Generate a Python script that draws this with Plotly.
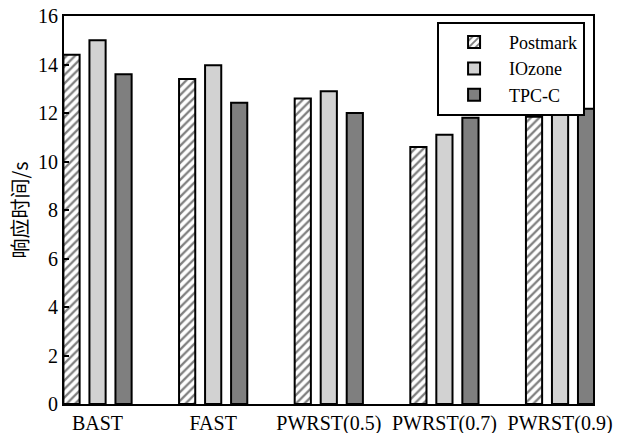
import plotly.graph_objects as go

categories = ["BAST", "FAST", "PWRST(0.5)", "PWRST(0.7)", "PWRST(0.9)"]
postmark = [14.4, 13.4, 12.6, 10.6, 11.85]
iozone = [15.0, 13.97, 12.9, 11.1, 12.48]
tpcc = [13.6, 12.42, 12.0, 11.8, 12.18]
y_ticks = [0, 2, 4, 6, 8, 10, 12, 14, 16]

FONT = "Liberation Serif, Times New Roman, serif"
W = 0.14
STEP = 0.225

fig = go.Figure()
fig.add_trace(go.Bar(
    x=categories, y=postmark, name="Postmark",
    width=W, offset=-STEP - W / 2,
    marker=dict(color="white", line=dict(color="black", width=2),
                pattern=dict(shape="/", fgcolor="black", bgcolor="white",
                             size=6, solidity=0.38)),
))
fig.add_trace(go.Bar(
    x=categories, y=iozone, name="IOzone",
    width=W, offset=-W / 2,
    marker=dict(color="#d2d2d2", line=dict(color="black", width=2)),
))
fig.add_trace(go.Bar(
    x=categories, y=tpcc, name="TPC-C",
    width=W, offset=STEP - W / 2,
    marker=dict(color="#7f7f7f", line=dict(color="black", width=2)),
))

fig.update_layout(
    width=629, height=433,
    margin=dict(l=64, r=36, t=16, b=29),
    paper_bgcolor="white", plot_bgcolor="white",
    font=dict(family=FONT, size=20, color="black"),
    showlegend=True,
    legend=dict(
        x=0.985, y=0.985, xanchor="right", yanchor="top",
        bgcolor="white", bordercolor="black", borderwidth=2,
        font=dict(family=FONT, size=18, color="black"),
        tracegroupgap=0, itemwidth=60,
    ),
)
fig.update_xaxes(
    type="category", range=[-0.29, 4.285], automargin=False,
    showline=True, linecolor="black", linewidth=2, mirror=True,
    ticks="", showgrid=False, zeroline=False,
    tickfont=dict(family=FONT, size=20),
)
fig.update_yaxes(
    range=[0, 16], tickvals=y_ticks, automargin=False,
    showline=True, linecolor="black", linewidth=2, mirror=True,
    ticks="inside", ticklen=5, tickwidth=1.5, tickcolor="black",
    showgrid=False, zeroline=False,
    tickfont=dict(family=FONT, size=20),
    title=dict(text="响应时间/s", font=dict(family="Noto Sans CJK SC, serif", size=20), standoff=4),
)

fig.write_html("out.html")
